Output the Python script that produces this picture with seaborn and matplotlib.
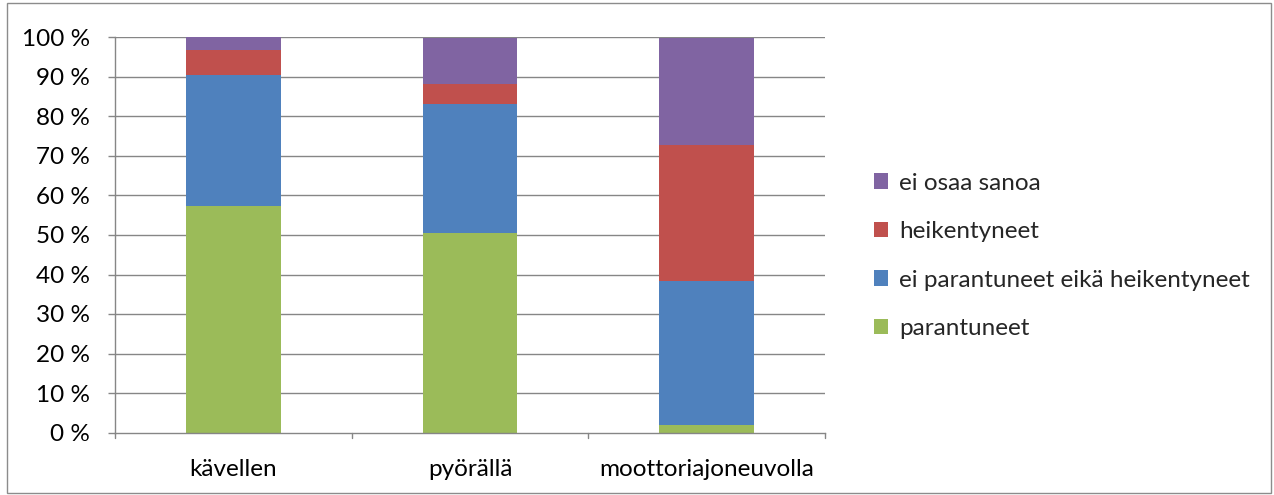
import matplotlib
matplotlib.use("Agg")
import matplotlib.pyplot as plt
from matplotlib.patches import Rectangle, Patch
import numpy as np
import pandas as pd
import seaborn as sns

categories = ["kävellen", "pyörällä", "moottoriajoneuvolla"]
parantuneet = [57.3, 50.5, 1.8]
ei_muutosta = [33.1, 32.6, 36.6]
heikentyneet = [6.4, 5.1, 34.3]
ei_osaa_sanoa = [3.2, 11.8, 27.3]

series_names = ["parantuneet", "ei parantuneet eikä heikentyneet",
                "heikentyneet", "ei osaa sanoa"]
series_values = [parantuneet, ei_muutosta, heikentyneet, ei_osaa_sanoa]
colors = ["#9BBB59", "#4F81BD", "#C0504D", "#8064A2"]
y_ticks = list(range(0, 101, 10))

sns.set_theme(style="white")
plt.rcParams["font.family"] = ["Lato", "DejaVu Sans"]
FS = 17.5

fig = plt.figure(figsize=(12.74, 4.95), dpi=100)
ax = fig.add_axes([115 / 1274, 1 - 432.5 / 495, 710 / 1274, 395 / 495])

grid_c = "#868686"
for t in y_ticks[1:]:
    ax.axhline(t, color=grid_c, lw=1.0, zorder=0)

# stacked bars: draw cumulative totals from the top layer down
cum = np.cumsum(np.array(series_values), axis=0)
for i in range(len(series_names) - 1, -1, -1):
    df = pd.DataFrame({"cat": categories, "val": cum[i]})
    sns.barplot(data=df, x="cat", y="val", color=colors[i], width=0.4,
                saturation=1, ax=ax, zorder=2, linewidth=0)

ax.set_xlim(-0.5, 2.5)
ax.set_ylim(0, 100)
ax.set_yticks(y_ticks)
ax.set_yticklabels([f"{t} %" for t in y_ticks], fontsize=FS, color="black")
ax.set_xticks([0, 1, 2])
ax.set_xticklabels(categories, fontsize=FS, color="black")
ax.set_xlabel("")
ax.set_ylabel("")

for s in ["top", "right"]:
    ax.spines[s].set_visible(False)
for s in ["left", "bottom"]:
    ax.spines[s].set_color(grid_c)
    ax.spines[s].set_linewidth(1.0)
    ax.spines[s].set_zorder(3)

ax.tick_params(axis="y", length=5, width=1, color=grid_c, pad=13, left=True)
ax.tick_params(axis="x", length=0, pad=19)
# category boundary ticks on the x axis
for xb in [-0.5, 0.5, 1.5, 2.5]:
    ax.plot([xb, xb], [0, -1.3], color=grid_c, lw=1, clip_on=False, zorder=3)

handles = [Patch(facecolor=colors[i], edgecolor="none", label=series_names[i])
           for i in range(len(series_names) - 1, -1, -1)]
leg = fig.legend(handles=handles, loc="upper left",
                 bbox_to_anchor=(864 / 1274, 1 - 163 / 495),
                 frameon=False, fontsize=FS, handlelength=0.6,
                 handleheight=0.6, handletextpad=0.45, labelspacing=1.13,
                 borderaxespad=0)

fig.patches.append(Rectangle((7 / 1274, 2 / 495), 1264 / 1274, 490 / 495,
                             transform=fig.transFigure, fill=False,
                             edgecolor="#8C8C8C", lw=1.0))

fig.savefig("out.png", dpi=100, facecolor="white")
